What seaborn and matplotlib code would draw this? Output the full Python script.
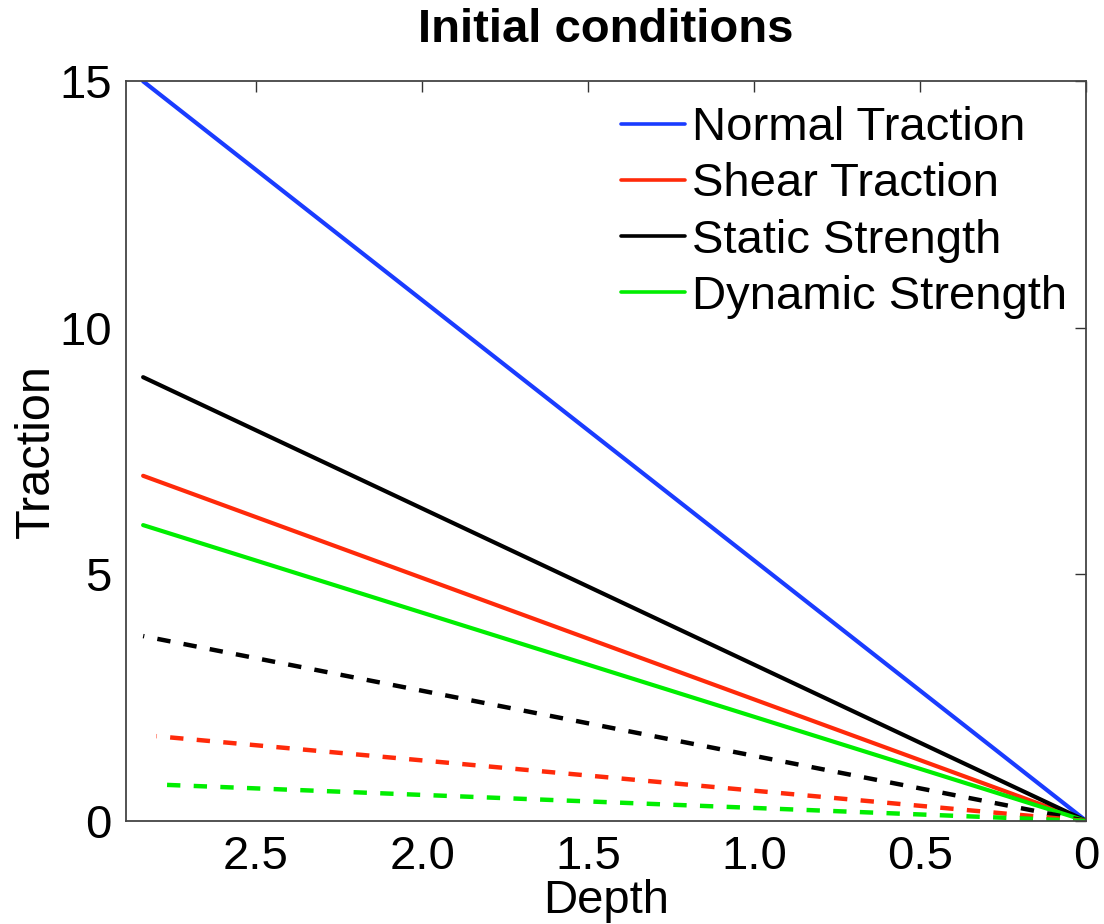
import matplotlib
matplotlib.use("Agg")
import matplotlib.pyplot as plt
import seaborn as sns
import pandas as pd

sns.set_style("white")
plt.rcParams['font.family'] = ['Liberation Sans', 'DejaVu Sans']
plt.rcParams['text.color'] = 'black'
plt.rcParams['axes.labelcolor'] = 'black'

# Data
depth_solid = [2.84, 0.0]
normal_traction = [15.0, 0.0]
shear_traction = [7.0, 0.0]
static_strength = [9.0, 0.0]
dynamic_strength = [6.0, 0.0]

depth_dashed_black = [2.84, 0.0]
static_dashed = [3.75, 0.0]
depth_dashed_color = [2.80, 0.0]
shear_dashed = [1.72, 0.0]
dynamic_dashed = [0.74, 0.0]

x_ticks = [2.5, 2.0, 1.5, 1.0, 0.5, 0.0]
x_tick_labels = ["2.5", "2.0", "1.5", "1.0", "0.5", "0"]
y_ticks = [0, 5, 10, 15]

fig = plt.figure(figsize=(11.04, 9.24), dpi=100)
ax = fig.add_axes([0.114, 0.1115, 0.870, 0.8005])

lw = 3.0
solid = [
    ("Normal Traction", depth_solid, normal_traction, "#1a3cff"),
    ("Shear Traction", depth_solid, shear_traction, "#ff2a0a"),
    ("Static Strength", depth_solid, static_strength, "#000000"),
    ("Dynamic Strength", depth_solid, dynamic_strength, "#00ee00"),
]
for name, xs, ys, c in solid:
    df = pd.DataFrame({"Depth": xs, "Traction": ys})
    sns.lineplot(data=df, x="Depth", y="Traction", ax=ax, color=c, lw=lw, label=name)

dashed = [
    (depth_dashed_black, static_dashed, "#000000"),
    (depth_dashed_color, shear_dashed, "#ff2a0a"),
    (depth_dashed_color, dynamic_dashed, "#00ee00"),
]
for xs, ys, c in dashed:
    df = pd.DataFrame({"Depth": xs, "Traction": ys})
    sns.lineplot(data=df, x="Depth", y="Traction", ax=ax, color=c, lw=3.2,
                 linestyle=(0, (3.0, 3.0)), legend=False)

ax.set_xlim(2.892, 0.0)
ax.set_ylim(0, 15)
ax.set_xticks(x_ticks)
ax.set_xticklabels(x_tick_labels)
ax.set_yticks(y_ticks)
ax.tick_params(direction="in", length=8, width=1, top=True, right=True,
               labelsize=34, colors="#333333", labelcolor="black", pad=10)
for s in ax.spines.values():
    s.set_color("#444444")
    s.set_linewidth(1.3)

ax.set_xlabel("Depth", fontsize=34, labelpad=0)
ax.set_ylabel("Traction", fontsize=35, labelpad=0)
ax.set_title("Initial conditions", fontsize=34, fontweight="bold", pad=28)

leg = ax.legend(loc="upper right", bbox_to_anchor=(1.0, 0.992), fontsize=34,
                frameon=False, handlelength=1.35, handletextpad=0.15,
                labelspacing=0.26, borderaxespad=0.0)
for t in leg.get_texts():
    t.set_color("black")
for h in leg.get_lines():
    h.set_linewidth(2.6)

fig.savefig("out.png", dpi=100)
